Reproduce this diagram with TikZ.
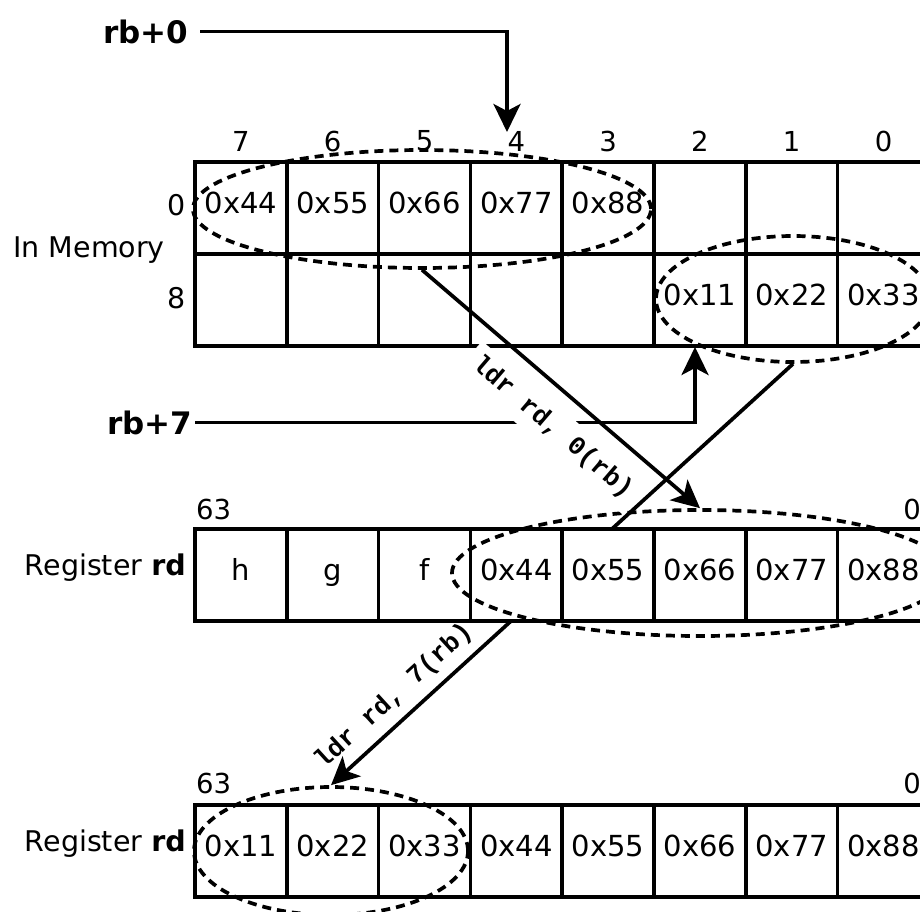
\documentclass[tikz,border=0pt]{standalone}
\usepackage{fontspec}
\setmainfont{DejaVu Sans}
\newfontfamily\codefont{Liberation Mono}
\usetikzlibrary{arrows.meta,shapes.geometric}
\pgfdeclarelayer{background}
\pgfsetlayers{background,main}

\begin{document}
\begin{tikzpicture}[x=1pt,y=-1pt,
  cell/.style={draw,line width=3.7pt,fill=white,minimum width=91.8pt,minimum height=92pt,
    inner sep=0pt,text height=21pt,text depth=10pt,font=\fontsize{29}{34}\selectfont},
  bitnum/.style={inner sep=0pt,font=\fontsize{27.5}{32}\selectfont},
  sidelabel/.style={inner sep=0pt,font=\fontsize{28.5}{34}\selectfont},
  ptr/.style={font=\bfseries\fontsize{31}{36}\selectfont,inner ysep=0pt},
  grp/.style={ellipse,draw,line width=3.7pt,dash pattern=on 9pt off 6pt,inner sep=0pt},
  conn/.style={line width=3.7pt},
  arr/.style={conn,-{Stealth[length=28pt,width=27pt,inset=7pt]}},
  code/.style={font=\codefont\bfseries\fontsize{26}{30}\selectfont,sloped,inner sep=0pt}
]
\useasboundingbox (0,0) rectangle (920,911);

% bit / byte numbers above the memory block
\foreach \n [count=\j from 0] in {7,6,5,4,3,2,1,0}
  \node[bitnum] (bit\n) at ({240.9+91.8*\j},141) {\n};

% memory rows 0 and 8
\foreach \t [count=\j from 0] in {0x44,0x55,0x66,0x77,0x88,{},{},{}}
  \node[cell] (ma\j) at ({240.9+91.8*\j},208) {\t};
\foreach \t [count=\j from 0] in {{},{},{},{},{},0x11,0x22,0x33}
  \node[cell] (mb\j) at ({240.9+91.8*\j},300) {\t};

% register after the first load
\foreach \t [count=\j from 0] in {h,g,f,0x44,0x55,0x66,0x77,0x88}
  \node[cell] (ra\j) at ({240.9+91.8*\j},575) {\t};
% register after the second load
\foreach \t [count=\j from 0] in {0x11,0x22,0x33,0x44,0x55,0x66,0x77,0x88}
  \node[cell] (rb\j) at ({240.9+91.8*\j},851) {\t};

% side labels
\node[sidelabel,anchor=base east] (memlbl) at (165,257) {In Memory};
\node[sidelabel,anchor=east] (row0) at (186,205) {0};
\node[sidelabel,anchor=east] (row8) at (186,298) {8};
\node[sidelabel,anchor=base east] (reglblA) at (186,575) {Register \textbf{rd}};
\node[sidelabel,anchor=base east] (reglblB) at (186,851) {Register \textbf{rd}};
\node[bitnum,anchor=west] (hiA) at (196,509) {63};
\node[bitnum] (loA) at (912,509) {0};
\node[bitnum,anchor=west] (hiB) at (196,783) {63};
\node[bitnum] (loB) at (912,783) {0};

% byte groups
\node[grp,minimum width=458pt,minimum height=118pt] (e1) at (422,209) {};
\node[grp,minimum width=274pt,minimum height=126pt] (e2) at (793,299) {};
\node[grp,minimum width=496pt,minimum height=126pt] (e3) at (700,573) {};
\node[grp,minimum width=274pt,minimum height=128pt] (e4) at (331,851) {};

% base address pointers
\node[ptr,anchor=base west,inner xsep=12pt] (rb0) at (91,43) {rb+0};
\node[ptr,anchor=base west,inner xsep=3pt] (rb7) at (104,434) {rb+7};
\coordinate (tip0) at (507,132);
\coordinate (tip7) at (695,347);
\draw[arr] (rb0.east) -| (tip0);
\draw[arr] (rb7.east) -| (tip7);

% first load
\draw[arr] (e1.south) -- (e3.north)
  node[code,pos=0.55,below=13pt,fill=white,inner sep=8pt] (ld0) {ldr rd, 0(rb)};

% second load, passing behind the register
\begin{pgfonlayer}{background}
\draw[arr] (e2.south) -- (e4.north)
  node[code,pos=0.83,above=9pt] (ld7) {ldr rd, 7(rb)};
\end{pgfonlayer}
\end{tikzpicture}
\end{document}
